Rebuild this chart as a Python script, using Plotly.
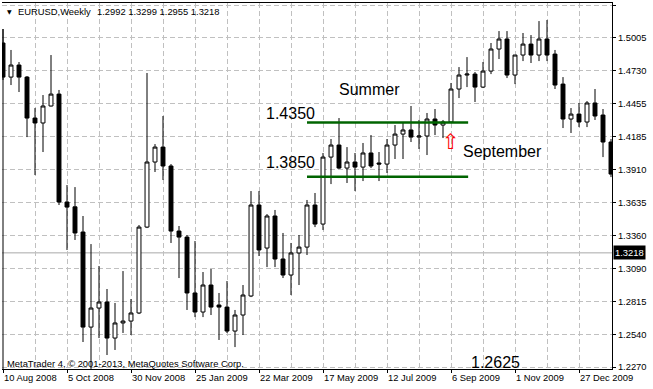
import plotly.graph_objects as go
import pandas as pd

# ---------------- data ----------------
first_week = "2008-08-10"
n_weeks = 77
weeks = pd.date_range(first_week, periods=n_weeks, freq="7D")

open_ = [1.4960, 1.4677, 1.4777, 1.4677, 1.4337, 1.4296, 1.4437, 1.4536, 1.3640, 1.3600,
         1.3391, 1.2602, 1.2760, 1.2810, 1.2511, 1.2636, 1.2652, 1.2719, 1.3432, 1.3972,
         1.4096, 1.3939, 1.3399, 1.3349, 1.2885, 1.2727, 1.2951, 1.2785, 1.2768, 1.2569,
         1.2702, 1.2860, 1.3615, 1.3258, 1.3524, 1.3167, 1.3034, 1.3217, 1.3266, 1.3615,
         1.3457, 1.4013, 1.4113, 1.3922, 1.3972, 1.3930, 1.4047, 1.3964, 1.3955, 1.4113,
         1.4204, 1.4238, 1.4179, 1.4188, 1.4329, 1.4279, 1.4304, 1.4578, 1.4694, 1.4702,
         1.4594, 1.4727, 1.4910, 1.4993, 1.4694, 1.4860, 1.4951, 1.4860, 1.4993, 1.4868,
         1.4619, 1.4329, 1.4370, 1.4304, 1.4462, 1.4362, 1.4138]
high = [1.5076, 1.4902, 1.4802, 1.4686, 1.4420, 1.4528, 1.4860, 1.4570, 1.3781, 1.3764,
        1.3524, 1.3291, 1.3109, 1.2918, 1.2802, 1.3067, 1.2835, 1.3449, 1.4711, 1.4121,
        1.4354, 1.3955, 1.3441, 1.3366, 1.3316, 1.3059, 1.3084, 1.2885, 1.2984, 1.2744,
        1.2951, 1.3731, 1.3731, 1.3540, 1.3574, 1.3383, 1.3300, 1.3366, 1.3657, 1.3715,
        1.4047, 1.4163, 1.4337, 1.4096, 1.4047, 1.4130, 1.4196, 1.4055, 1.4163, 1.4279,
        1.4296, 1.4437, 1.4321, 1.4379, 1.4412, 1.4321, 1.4628, 1.4760, 1.4843, 1.4719,
        1.4802, 1.4960, 1.5059, 1.5059, 1.4860, 1.5043, 1.5026, 1.5142, 1.5151, 1.4902,
        1.4677, 1.4420, 1.4462, 1.4478, 1.4578, 1.4412, 1.4163]
low = [1.4653, 1.4611, 1.4553, 1.4179, 1.3864, 1.4055, 1.4433, 1.3615, 1.3242, 1.3325,
       1.2478, 1.2255, 1.2511, 1.2370, 1.2412, 1.2553, 1.2536, 1.2710, 1.3424, 1.3889,
       1.3823, 1.3300, 1.3009, 1.2744, 1.2685, 1.2685, 1.2702, 1.2495, 1.2553, 1.2436,
       1.2536, 1.2851, 1.3192, 1.3100, 1.3100, 1.3009, 1.2868, 1.2951, 1.3200, 1.3432,
       1.3408, 1.3789, 1.3914, 1.3798, 1.3731, 1.3814, 1.3922, 1.3814, 1.3881, 1.3997,
       1.3997, 1.4138, 1.4080, 1.4030, 1.4196, 1.4171, 1.4296, 1.4503, 1.4594, 1.4470,
       1.4586, 1.4702, 1.4827, 1.4669, 1.4619, 1.4810, 1.4794, 1.4810, 1.4810, 1.4578,
       1.4254, 1.4213, 1.4262, 1.4262, 1.4321, 1.4013, 1.3847]
close = [1.4677, 1.4777, 1.4677, 1.4337, 1.4296, 1.4437, 1.4536, 1.3640, 1.3598, 1.3383,
         1.2602, 1.2760, 1.2810, 1.2511, 1.2636, 1.2652, 1.2719, 1.3432, 1.3972, 1.4096,
         1.3939, 1.3399, 1.3349, 1.2885, 1.2727, 1.2951, 1.2768, 1.2768, 1.2569, 1.2702,
         1.2868, 1.3615, 1.3242, 1.3524, 1.3167, 1.3034, 1.3217, 1.3266, 1.3615, 1.3457,
         1.4013, 1.4113, 1.3922, 1.3972, 1.3930, 1.4047, 1.3939, 1.3955, 1.4113, 1.4204,
         1.4238, 1.4179, 1.4188, 1.4329, 1.4279, 1.4304, 1.4578, 1.4694, 1.4702, 1.4594,
         1.4727, 1.4910, 1.4993, 1.4694, 1.4860, 1.4951, 1.4860, 1.4993, 1.4860, 1.4611,
         1.4329, 1.4370, 1.4304, 1.4462, 1.4354, 1.4138, 1.3872]

price_ticks = [1.2270, 1.2540, 1.2815, 1.3090, 1.3360, 1.3635, 1.3910, 1.4185,
               1.4455, 1.4730, 1.5005, 1.5275]
price_tick_text = ["%.4f" % v for v in price_ticks]

date_ticks = ["2008-08-10", "2008-10-05", "2008-11-30", "2009-01-25", "2009-03-22",
              "2009-05-17", "2009-07-12", "2009-09-06", "2009-11-01", "2009-12-27"]
date_tick_text = ["10 Aug 2008", "5 Oct 2008", "30 Nov 2008", "25 Jan 2009", "22 Mar 2009",
                  "17 May 2009", "12 Jul 2009", "6 Sep 2009", "1 Nov 2009", "27 Dec 2009"]

current_price = 1.3218
header_symbol = "EURUSD,Weekly"
header_ohlc = "1.2992 1.3299 1.2955 1.3218"
copyright_text = "MetaTrader 4, \u00a9 2001-2013, MetaQuotes Software Corp."

level_dates = ["2009-05-03", "2009-09-21"]
level_upper = 1.4300
level_lower = 1.3850

labels = ["Summer", "1.4350", "1.3850", "September", "1.2625"]
label_dates = ["2009-05-31", "2009-03-28", "2009-03-28", "2009-09-16 12:00", "2009-09-23 12:00"]
label_prices = [1.4578, 1.4374, 1.3964, 1.4059, 1.2304]

arrow_date = "2009-09-06"
arrow_price = 1.4255

# ---------------- figure ----------------
W, H = 653, 389
ML, MR, MT, MB = 2, 41, 3, 20
PW, PH = W - ML - MR, H - MT - MB


def px_x(X):
    return (X - ML) / PW


def px_y(Y):
    return (H - MB - Y) / PH


GRID = "#c0c0c0"
DASH = "5px,3px"
SMALL = dict(family="Liberation Sans, Arial, sans-serif", size=9.4, color="black")
BIG = dict(family="Liberation Sans, Arial, sans-serif", size=16, color="black")

fig = go.Figure()

fig.add_trace(go.Candlestick(
    x=weeks, open=open_, high=high, low=low, close=close,
    increasing=dict(line=dict(color="black", width=1), fillcolor="white"),
    decreasing=dict(line=dict(color="black", width=1), fillcolor="black"),
    whiskerwidth=0, showlegend=False, hoverinfo="skip",
))

for lvl in (level_upper, level_lower):
    fig.add_trace(go.Scatter(
        x=level_dates, y=[lvl, lvl], mode="lines",
        line=dict(color="#006400", width=2.5), showlegend=False, hoverinfo="skip",
    ))

# current price line
fig.add_shape(type="line", xref="paper", x0=0, x1=1, yref="y",
              y0=current_price, y1=current_price,
              line=dict(color="#a8a8a8", width=1), layer="below")
# left border line
fig.add_shape(type="line", xref="paper", x0=px_x(3), x1=px_x(3), yref="y",
              y0=1.2254, y1=high[0], line=dict(color="black", width=1))

annotations = []
for txt, d, p in zip(labels, label_dates, label_prices):
    annotations.append(dict(x=d, y=p, xref="x", yref="y", text=txt, showarrow=False,
                            xanchor="left", yanchor="middle", font=BIG, xshift=-2))

annotations.append(dict(x=arrow_date, y=arrow_price, xref="x", yref="y", text="\u21e7",
                        showarrow=False, xanchor="center", yanchor="top",
                        font=dict(family="DejaVu Sans", size=21, color="red")))

annotations.append(dict(x=1, y=current_price, xref="paper", yref="y", text="%.4f" % current_price,
                        showarrow=False, xanchor="left", yanchor="middle", xshift=1,
                        font=dict(family="Liberation Sans, Arial, sans-serif", size=9.4, color="white"),
                        bgcolor="black", borderpad=1))

annotations.append(dict(x=px_x(5), y=px_y(11), xref="paper", yref="paper", text="\u25bc",
                        showarrow=False, xanchor="left", yanchor="middle",
                        font=dict(family="DejaVu Sans", size=6, color="black")))
annotations.append(dict(x=px_x(16), y=px_y(11), xref="paper", yref="paper", text=header_symbol,
                        showarrow=False, xanchor="left", yanchor="middle", font=SMALL))
annotations.append(dict(x=px_x(95), y=px_y(11), xref="paper", yref="paper", text=header_ohlc,
                        showarrow=False, xanchor="left", yanchor="middle", font=SMALL))
annotations.append(dict(x=px_x(5), y=px_y(363.5), xref="paper", yref="paper", text=copyright_text,
                        showarrow=False, xanchor="left", yanchor="middle", font=SMALL))

fig.update_layout(
    width=W, height=H,
    margin=dict(l=ML, r=MR, t=MT, b=MB, pad=0),
    paper_bgcolor="white", plot_bgcolor="white",
    showlegend=False,
    annotations=annotations,
    font=SMALL,
    xaxis=dict(
        type="date",
        range=["2008-08-09 03:00", "2010-01-24 21:00"],
        rangeslider=dict(visible=False),
        tickvals=date_ticks, ticktext=date_tick_text,
        ticks="outside", ticklen=3, tickcolor="black",
        ticklabelposition="outside right",
        tickfont=SMALL,
        showgrid=True, gridcolor=GRID, griddash=DASH, gridwidth=1,
        minor=dict(tick0=first_week, dtick=28 * 86400000, showgrid=True,
                   gridcolor=GRID, griddash=DASH, ticks=""),
        showline=True, linecolor="black", linewidth=1, mirror=True,
        zeroline=False, fixedrange=True,
    ),
    yaxis=dict(
        side="right",
        range=[1.2254, 1.5292],
        tickvals=price_ticks, ticktext=price_tick_text,
        ticks="outside", ticklen=3, tickcolor="black",
        tickfont=SMALL,
        showgrid=True, gridcolor=GRID, griddash=DASH, gridwidth=1,
        showline=True, linecolor="black", linewidth=1,
        zeroline=False, fixedrange=True,
    ),
)

fig.write_html(
    "out.html",
    config={"displayModeBar": False},
    post_script="document.body.style.margin='0';document.body.style.padding='0';",
)
